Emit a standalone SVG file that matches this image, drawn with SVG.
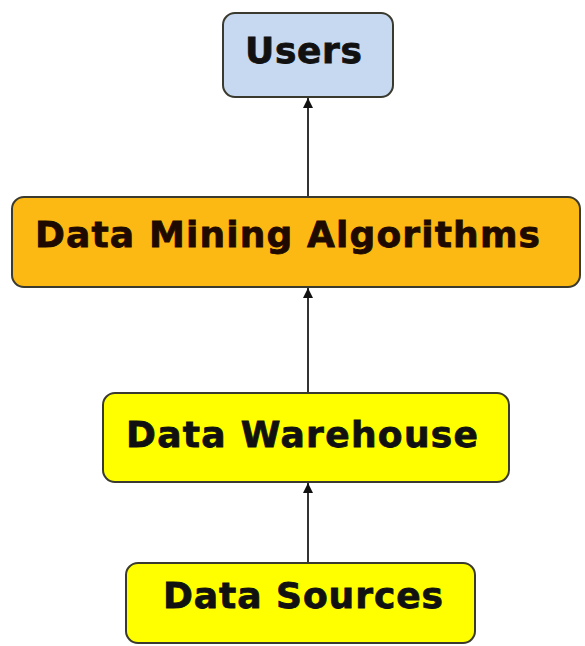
<svg xmlns="http://www.w3.org/2000/svg" width="585" height="646" viewBox="0 0 585 646">
<style>
.box{stroke:#3b3a2e;stroke-width:2}
.lbl{font-family:"DejaVu Sans","Verdana",sans-serif;font-weight:bold;font-size:36px;fill:#111;stroke:#111;stroke-width:0.8}
.edge{stroke:#333;stroke-width:2;fill:none}
</style>
<defs>
<marker id="arr" markerWidth="10" markerHeight="10" refX="10" refY="5" orient="auto" markerUnits="userSpaceOnUse" viewBox="0 0 10 10">
<path d="M0,0 L10,5 L0,10 Z" fill="#111"/>
</marker>
</defs>
<rect width="585" height="646" fill="#ffffff"/>
<g id="connectors">
<line class="edge" x1="308" y1="197" x2="308" y2="98" marker-end="url(#arr)"/>
<line class="edge" x1="308" y1="393" x2="308" y2="288" marker-end="url(#arr)"/>
<line class="edge" x1="308" y1="563" x2="308" y2="483" marker-end="url(#arr)"/>
</g>
<g id="users">
<rect class="box" x="223" y="13" width="170" height="84" rx="12" fill="#c6d9f1"/>
<text class="lbl" x="245" y="63" textLength="117" lengthAdjust="spacing">Users</text>
</g>
<g id="mining">
<rect class="box" x="12" y="197" width="568" height="90" rx="12" fill="#fdb913"/>
<text class="lbl" x="35" y="247" textLength="505" lengthAdjust="spacing" style="fill:#1e0a00;stroke:#1e0a00">Data Mining Algorithms</text>
</g>
<g id="warehouse">
<rect class="box" x="103" y="393" width="406" height="89" rx="12" fill="#ffff00"/>
<text class="lbl" x="126" y="447" textLength="352" lengthAdjust="spacing">Data Warehouse</text>
</g>
<g id="sources">
<rect class="box" x="126" y="563" width="349" height="80" rx="12" fill="#ffff00"/>
<text class="lbl" x="163" y="608" textLength="280" lengthAdjust="spacing">Data Sources</text>
</g>
</svg>
